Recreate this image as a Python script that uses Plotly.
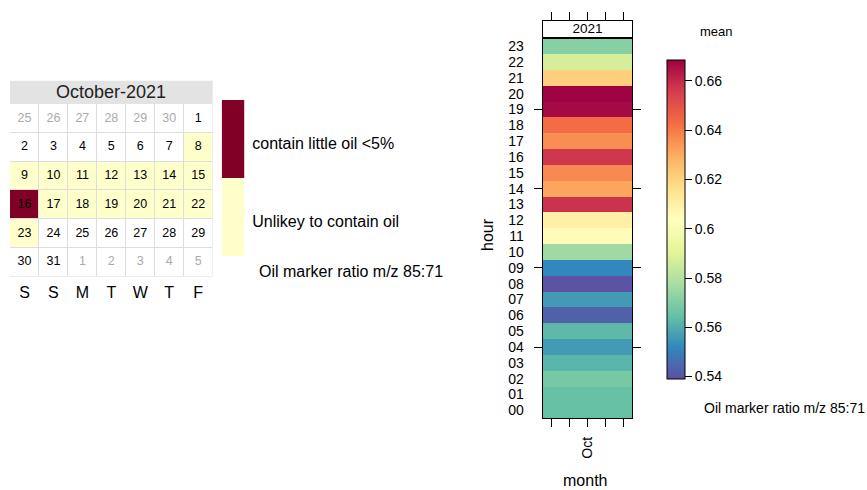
import datetime as dt
import plotly.graph_objects as go

W, H = 867, 490

# ---- October 2021: daily oil-marker classification ----
cal_year, cal_month = 2021, 10
class_labels = ["Unlikey to contain oil", "contain little oil <5%"]
class_colors = ["#FFFFCC", "#800026"]
flag_days = [8, 9, 10, 11, 12, 13, 14, 15, 16, 17, 18, 19, 20, 21, 22, 23]
flag_class = [0, 0, 0, 0, 0, 0, 0, 0, 1, 0, 0, 0, 0, 0, 0, 0]
weekday_labels = ["S", "S", "M", "T", "W", "T", "F"]
cal_title = "October-2021"

# ---- hourly mean of the oil-marker ratio ----
hours = list(range(24))
hour_mean = [0.565, 0.565, 0.568, 0.562, 0.556, 0.563, 0.543, 0.556,
             0.540, 0.552, 0.576, 0.605, 0.610, 0.658, 0.6315, 0.637,
             0.657, 0.636, 0.643, 0.6665, 0.668, 0.621, 0.587, 0.571]
hour_text = [f"{h:02d}" for h in hours]
year_label = "2021"
month_ticks = ["", "", "Oct", "", ""]
cb_ticks = [0.54, 0.56, 0.58, 0.60, 0.62, 0.64, 0.66]
cb_ticktext = ["0.54", "0.56", "0.58", "0.6", "0.62", "0.64", "0.66"]
cb_range = [0.539, 0.6685]
ratio_label = "Oil marker ratio m/z 85:71"


def px(x):
    return x / W


def py(y):
    return 1 - y / H


FONT = "Liberation Sans, Arial, sans-serif"

# Build the 6x7 calendar grid (weeks start on Saturday)
first = dt.date(cal_year, cal_month, 1)
start = first - dt.timedelta(days=(first.weekday() - 5) % 7)
day_class = dict(zip(flag_days, flag_class))
cal_z, cal_x, cal_y, cal_txt, cal_col = [], [], [], [], []
for r in range(6):
    row = []
    for c in range(7):
        d = start + dt.timedelta(days=r * 7 + c)
        in_month = d.month == cal_month
        if in_month and d.day in day_class:
            row.append(day_class[d.day] + 1)
        else:
            row.append(0)
        cal_x.append(c)
        cal_y.append(r)
        cal_txt.append(str(d.day))
        cal_col.append("black" if in_month else "#AAAAAA")
    cal_z.append(row)

cal_scale = [[0, "white"], [1 / 3, "white"],
             [1 / 3, class_colors[0]], [2 / 3, class_colors[0]],
             [2 / 3, class_colors[1]], [1, class_colors[1]]]

fig = go.Figure()

# calendar cells
fig.add_trace(go.Heatmap(
    z=cal_z, x=list(range(7)), y=list(range(6)), zmin=0, zmax=2,
    colorscale=cal_scale, showscale=False, xgap=1, ygap=1,
    xaxis="x", yaxis="y", hoverinfo="skip"))
fig.add_trace(go.Scatter(
    x=cal_x, y=cal_y, mode="text", text=cal_txt,
    textfont=dict(size=12.5, color=cal_col, family=FONT),
    xaxis="x", yaxis="y", hoverinfo="skip"))

# key for the calendar classes
fig.add_trace(go.Heatmap(
    z=[[1], [2]], x=[0], y=[0, 1], zmin=0, zmax=2, colorscale=cal_scale,
    showscale=False, xaxis="x2", yaxis="y2", hoverinfo="skip"))

# hour-of-day heatmap
fig.add_trace(go.Heatmap(
    z=[[v] for v in hour_mean], x=[0], y=hours,
    zmin=cb_range[0], zmax=cb_range[1],
    colorscale="Spectral", reversescale=True,
    xaxis="x3", yaxis="y3",
    colorbar=dict(
        x=px(666.7), xanchor="left", xpad=0, ypad=0,
        y=py(219.5), yanchor="middle",
        len=319, lenmode="pixels", thickness=18, thicknessmode="pixels",
        outlinewidth=1, outlinecolor="black",
        ticks="outside", ticklen=7, tickcolor="black",
        tickvals=cb_ticks, ticktext=cb_ticktext,
        tickfont=dict(size=14, family=FONT, color="black"))))
# tick-mark axis overlaying the heatmap
fig.add_trace(go.Scatter(x=[None], y=[None], xaxis="x3", yaxis="y4",
                         mode="markers", hoverinfo="skip"))
# strip holding the year label
fig.add_trace(go.Scatter(x=[0], y=[0.5], mode="text", text=[year_label],
                         textfont=dict(size=13.5, family=FONT, color="black"),
                         xaxis="x5", yaxis="y5", hoverinfo="skip"))

fig.update_layout(
    width=W, height=H, margin=dict(l=0, r=0, t=0, b=0),
    paper_bgcolor="white", plot_bgcolor="white", showlegend=False,
    font=dict(family=FONT, color="black"),
    # calendar
    xaxis=dict(domain=[px(10), px(212.7)], range=[-0.5, 6.5],
               tickvals=list(range(7)), ticktext=weekday_labels,
               ticks="", showline=False, showgrid=False, zeroline=False,
               tickfont=dict(size=16), ticklabelstandoff=4, anchor="y"),
    yaxis=dict(domain=[py(276.7), py(104)], range=[5.5, -0.5],
               visible=False, anchor="x"),
    # class key
    xaxis2=dict(domain=[px(221.7), px(244.3)], range=[-0.5, 0.5],
                visible=False, anchor="y2"),
    yaxis2=dict(domain=[py(255.7), py(100)], range=[-0.5, 1.5],
                side="right", tickvals=[-0.06, 0.94], ticktext=class_labels,
                ticks="", showline=False, showgrid=False, zeroline=False,
                tickfont=dict(size=16), ticklabelstandoff=7, anchor="x2"),
    # hourly heatmap
    xaxis3=dict(domain=[px(542.7), px(632.3)], range=[-0.5, 0.5],
                tickvals=[-0.4, -0.2, 0, 0.2, 0.4], ticktext=month_ticks,
                tickangle=-90, ticks="outside", ticklen=8, tickcolor="black",
                showline=True, mirror=True, linecolor="black",
                showgrid=False, zeroline=False, tickfont=dict(size=14),
                ticklabelstandoff=4, anchor="y3"),
    yaxis3=dict(domain=[py(418.3), py(38.3)], range=[-0.5, 23.5],
                tickvals=hours, ticktext=hour_text, ticks="outside",
                ticklen=8, tickcolor="rgba(0,0,0,0)", showline=True,
                mirror=True, linecolor="black", showgrid=False,
                zeroline=False, tickfont=dict(size=14), ticklabelstandoff=7,
                anchor="x3"),
    yaxis4=dict(overlaying="y3", anchor="x3", side="left",
                range=[-0.5, 23.5], tickvals=[4, 9, 14, 19],
                ticks="outside", ticklen=8, tickcolor="black",
                showticklabels=False, showline=True, mirror="ticks",
                linecolor="black", showgrid=False, zeroline=False),
    xaxis5=dict(domain=[px(542.7), px(632.3)], range=[-0.5, 0.5],
                side="top", tickvals=[-0.4, -0.2, 0, 0.2, 0.4],
                ticks="outside", ticklen=8, tickcolor="black",
                showticklabels=False, showline=True, mirror=True,
                linecolor="black", showgrid=False, zeroline=False,
                anchor="y5"),
    yaxis5=dict(domain=[py(38.3), py(21)], range=[0, 1],
                showticklabels=False, ticks="", showline=True, mirror=True,
                linecolor="black", showgrid=False, zeroline=False,
                anchor="x5"),
)

fig.add_shape(type="rect", xref="paper", yref="paper",
              x0=px(10), x1=px(212.7), y0=py(104), y1=py(80.7),
              fillcolor="#E3E3E3", line_width=0)
fig.add_shape(type="rect", xref="x", yref="y", x0=-0.5, x1=6.5,
              y0=-0.5, y1=5.5, fillcolor="#DDDDDD", line_width=0,
              layer="below")

annos = [
    dict(x=px(111.3), y=py(92), text=cal_title, font=dict(size=18, color="#222"),
         xanchor="center", yanchor="middle"),
    dict(x=px(256.7), y=py(271.7), text=ratio_label, font=dict(size=16),
         xanchor="left", yanchor="middle"),
    dict(x=px(487), y=py(235), text="hour", textangle=-90, font=dict(size=16),
         xanchor="center", yanchor="middle"),
    dict(x=px(585), y=py(480), text="month", font=dict(size=16),
         xanchor="center", yanchor="middle"),
    dict(x=px(698), y=py(31.7), text="mean", font=dict(size=13),
         xanchor="left", yanchor="middle"),
    dict(x=px(702), y=py(408), text=ratio_label, font=dict(size=14),
         xanchor="left", yanchor="middle"),
]
for a in annos:
    fig.add_annotation(xref="paper", yref="paper", showarrow=False, **a)

fig.write_html("out.html")
